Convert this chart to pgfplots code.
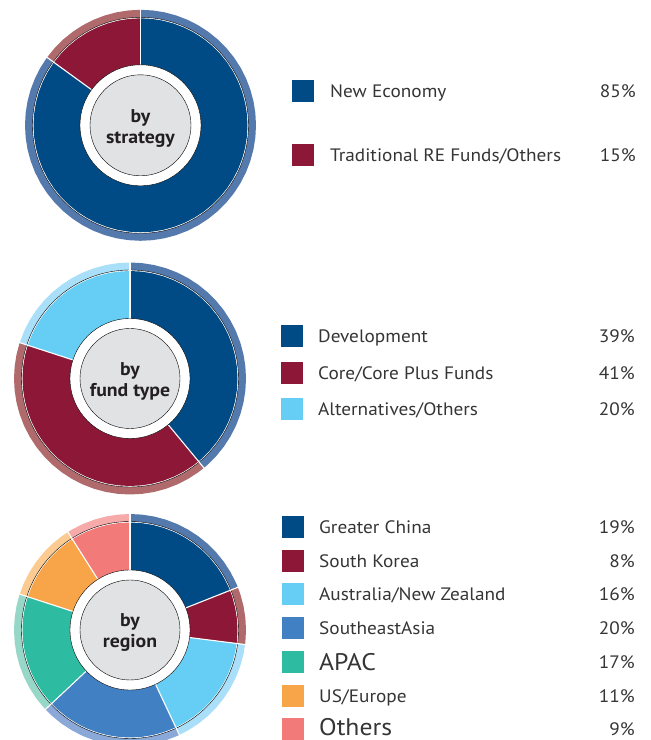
\documentclass[border=0pt]{standalone}
\usepackage{pgfplots}
\pgfplotsset{compat=1.18}
\usepackage{pgfplotstable}
\usepackage{fontspec}
\setmainfont{PT Sans}[FakeStretch=1.07]

\definecolor{cBlue}{HTML}{004B85}
\definecolor{cBlueL}{HTML}{5479AC}
\definecolor{cRed}{HTML}{8C1737}
\definecolor{cRedL}{HTML}{B06A6C}
\definecolor{cSky}{HTML}{66CEF5}
\definecolor{cSkyL}{HTML}{A9DFF8}
\definecolor{cMid}{HTML}{4280C4}
\definecolor{cMidL}{HTML}{8AA8D8}
\definecolor{cTeal}{HTML}{2DBBA1}
\definecolor{cTealL}{HTML}{97D7C8}
\definecolor{cOra}{HTML}{F8A54A}
\definecolor{cOraL}{HTML}{FCCB92}
\definecolor{cSal}{HTML}{F27A79}
\definecolor{cSalL}{HTML}{F7AAAA}
\definecolor{cGrey}{HTML}{E1E2E4}
\definecolor{cTxt}{HTML}{353535}
\definecolor{cLbl}{HTML}{231F20}

% ---- by strategy: New Economy 85%, Traditional 15% (angles from 90 deg, clockwise)
\pgfplotstableread[row sep=\\]{a r\\ 90 0\\ 90 1\\ 84 1\\ 78 1\\ 72 1\\ 66 1\\ 60 1\\ 54 1\\ 48 1\\ 42 1\\ 36 1\\ 30 1\\ 24 1\\ 18 1\\ 12 1\\ 6 1\\ 0 1\\ -6 1\\ -12 1\\ -18 1\\ -24 1\\ -30 1\\ -36 1\\ -42 1\\ -48 1\\ -54 1\\ -60 1\\ -66 1\\ -72 1\\ -78 1\\ -84 1\\ -90 1\\ -96 1\\ -102 1\\ -108 1\\ -114 1\\ -120 1\\ -126 1\\ -132 1\\ -138 1\\ -144 1\\ -150 1\\ -156 1\\ -162 1\\ -168 1\\ -174 1\\ -180 1\\ -186 1\\ -192 1\\ -198 1\\ -204 1\\ -210 1\\ -216 1\\ -216 0\\}\tNE
\pgfplotstableread[row sep=\\]{a r\\ -216 0\\ -216 1\\ -222 1\\ -228 1\\ -234 1\\ -240 1\\ -246 1\\ -252 1\\ -258 1\\ -264 1\\ -270 1\\ -270 0\\}\tTR

% ---- by fund type: Development 39%, Core 41%, Alternatives 20%
\pgfplotstableread[row sep=\\]{a r\\ 90 0\\ 90 1\\ 84 1\\ 78 1\\ 72 1\\ 66 1\\ 60 1\\ 54 1\\ 48 1\\ 42 1\\ 36 1\\ 30 1\\ 24 1\\ 18 1\\ 12 1\\ 6 1\\ 0 1\\ -6 1\\ -12 1\\ -18 1\\ -24 1\\ -30 1\\ -36 1\\ -42 1\\ -48 1\\ -50.4 1\\ -50.4 0\\}\tDev
\pgfplotstableread[row sep=\\]{a r\\ -50.4 0\\ -50.4 1\\ -54 1\\ -60 1\\ -66 1\\ -72 1\\ -78 1\\ -84 1\\ -90 1\\ -96 1\\ -102 1\\ -108 1\\ -114 1\\ -120 1\\ -126 1\\ -132 1\\ -138 1\\ -144 1\\ -150 1\\ -156 1\\ -162 1\\ -168 1\\ -174 1\\ -180 1\\ -186 1\\ -192 1\\ -198 1\\ -198 0\\}\tCore
\pgfplotstableread[row sep=\\]{a r\\ -198 0\\ -198 1\\ -204 1\\ -210 1\\ -216 1\\ -222 1\\ -228 1\\ -234 1\\ -240 1\\ -246 1\\ -252 1\\ -258 1\\ -264 1\\ -270 1\\ -270 0\\}\tAlt

% ---- by region: 19, 8, 16, 20, 17, 11, 9 %
\pgfplotstableread[row sep=\\]{a r\\ 90 0\\ 90 1\\ 84 1\\ 78 1\\ 72 1\\ 66 1\\ 60 1\\ 54 1\\ 48 1\\ 42 1\\ 36 1\\ 30 1\\ 24 1\\ 21.6 1\\ 21.6 0\\}\tGC
\pgfplotstableread[row sep=\\]{a r\\ 21.6 0\\ 21.6 1\\ 18 1\\ 12 1\\ 6 1\\ 0 1\\ -6 1\\ -7.2 1\\ -7.2 0\\}\tSK
\pgfplotstableread[row sep=\\]{a r\\ -7.2 0\\ -7.2 1\\ -12 1\\ -18 1\\ -24 1\\ -30 1\\ -36 1\\ -42 1\\ -48 1\\ -54 1\\ -60 1\\ -64.8 1\\ -64.8 0\\}\tAU
\pgfplotstableread[row sep=\\]{a r\\ -64.8 0\\ -64.8 1\\ -66 1\\ -72 1\\ -78 1\\ -84 1\\ -90 1\\ -96 1\\ -102 1\\ -108 1\\ -114 1\\ -120 1\\ -126 1\\ -132 1\\ -136.8 1\\ -136.8 0\\}\tSEA
\pgfplotstableread[row sep=\\]{a r\\ -136.8 0\\ -136.8 1\\ -138 1\\ -144 1\\ -150 1\\ -156 1\\ -162 1\\ -168 1\\ -174 1\\ -180 1\\ -186 1\\ -192 1\\ -198 1\\ -198 0\\}\tAPAC
\pgfplotstableread[row sep=\\]{a r\\ -198 0\\ -198 1\\ -204 1\\ -210 1\\ -216 1\\ -222 1\\ -228 1\\ -234 1\\ -237.6 1\\ -237.6 0\\}\tUS
\pgfplotstableread[row sep=\\]{a r\\ -237.6 0\\ -237.6 1\\ -240 1\\ -246 1\\ -252 1\\ -258 1\\ -264 1\\ -270 1\\ -270 0\\}\tOTH

\pgfplotsset{
  donut/.style={hide axis, scale only axis, data cs=polar,
    xmin=-1, xmax=1, ymin=-1, ymax=1, clip=false, anchor=origin},
  wedge/.style={fill=#1, draw=none},
  sep/.style={draw=white, line width=1.1pt},
  disc/.style={only marks, mark=*, mark size=#1, mark options={fill=white, draw=none}},
}
\newcommand{\legfont}{\fontsize{18}{18}\selectfont}
\newcommand{\legbig}{\fontsize{24}{24}\selectfont}
\tikzset{ctr/.style={align=center, text=cLbl, font=\bfseries\fontsize{18.5}{21}\selectfont}}

\begin{document}
\begin{tikzpicture}
\useasboundingbox (0,0) rectangle (651pt,740pt);

% ================= Donut 1 =================
\begin{axis}[donut, width=231pt, height=231pt, at={(140.5pt,614.7pt)}]
  \addplot[wedge=cBlueL] table[x=a,y=r] {\tNE};
  \addplot[wedge=cRedL] table[x=a,y=r] {\tTR};
  \addplot[disc=108pt] coordinates {(0,0)};
\end{axis}
\begin{axis}[donut, width=214pt, height=214pt, at={(140.5pt,614.7pt)}]
  \addplot[wedge=cBlue] table[x=a,y=r] {\tNE};
  \addplot[wedge=cRed] table[x=a,y=r] {\tTR};
  \addplot[sep] coordinates {(90,0.5) (90,1.1)};
  \addplot[sep] coordinates {(-216,0.5) (-216,1.1)};
  \addplot[disc=60.5pt] coordinates {(0,0)};
  \addplot[only marks, mark=*, mark size=50.5pt, mark options={fill=cGrey, draw=none}] coordinates {(0,0)};
\end{axis}
\node[ctr] at (140.5pt,612pt) {by\\strategy};

% ================= Donut 2 =================
\begin{axis}[donut, width=232pt, height=232pt, at={(130pt,361.5pt)}]
  \addplot[wedge=cBlueL] table[x=a,y=r] {\tDev};
  \addplot[wedge=cRedL] table[x=a,y=r] {\tCore};
  \addplot[wedge=cSkyL] table[x=a,y=r] {\tAlt};
  \addplot[disc=108.5pt] coordinates {(0,0)};
\end{axis}
\begin{axis}[donut, width=215pt, height=215pt, at={(130pt,361.5pt)}]
  \addplot[wedge=cBlue] table[x=a,y=r] {\tDev};
  \addplot[wedge=cRed] table[x=a,y=r] {\tCore};
  \addplot[wedge=cSky] table[x=a,y=r] {\tAlt};
  \addplot[sep] coordinates {(90,0.5) (90,1.1)};
  \addplot[sep] coordinates {(-50.4,0.5) (-50.4,1.1)};
  \addplot[sep] coordinates {(-198,0.5) (-198,1.1)};
  \addplot[disc=60pt] coordinates {(0,0)};
  \addplot[only marks, mark=*, mark size=50pt, mark options={fill=cGrey, draw=none}] coordinates {(0,0)};
\end{axis}
\node[ctr] at (130pt,359pt) {by\\fund type};

% ================= Donut 3 =================
\begin{axis}[donut, width=232pt, height=232pt, at={(130pt,110pt)}]
  \addplot[wedge=cBlueL] table[x=a,y=r] {\tGC};
  \addplot[wedge=cRedL] table[x=a,y=r] {\tSK};
  \addplot[wedge=cSkyL] table[x=a,y=r] {\tAU};
  \addplot[wedge=cMidL] table[x=a,y=r] {\tSEA};
  \addplot[wedge=cTealL] table[x=a,y=r] {\tAPAC};
  \addplot[wedge=cOraL] table[x=a,y=r] {\tUS};
  \addplot[wedge=cSalL] table[x=a,y=r] {\tOTH};
  \addplot[disc=108.5pt] coordinates {(0,0)};
\end{axis}
\begin{axis}[donut, width=215pt, height=215pt, at={(130pt,110pt)}]
  \addplot[wedge=cBlue] table[x=a,y=r] {\tGC};
  \addplot[wedge=cRed] table[x=a,y=r] {\tSK};
  \addplot[wedge=cSky] table[x=a,y=r] {\tAU};
  \addplot[wedge=cMid] table[x=a,y=r] {\tSEA};
  \addplot[wedge=cTeal] table[x=a,y=r] {\tAPAC};
  \addplot[wedge=cOra] table[x=a,y=r] {\tUS};
  \addplot[wedge=cSal] table[x=a,y=r] {\tOTH};
  \addplot[sep] coordinates {(90,0.5) (90,1.1)};
  \addplot[sep] coordinates {(21.6,0.5) (21.6,1.1)};
  \addplot[sep] coordinates {(-7.2,0.5) (-7.2,1.1)};
  \addplot[sep] coordinates {(-64.8,0.5) (-64.8,1.1)};
  \addplot[sep] coordinates {(-136.8,0.5) (-136.8,1.1)};
  \addplot[sep] coordinates {(-198,0.5) (-198,1.1)};
  \addplot[sep] coordinates {(-237.6,0.5) (-237.6,1.1)};
  \addplot[disc=60pt] coordinates {(0,0)};
  \addplot[only marks, mark=*, mark size=50pt, mark options={fill=cGrey, draw=none}] coordinates {(0,0)};
\end{axis}
\node[ctr] at (130pt,107.5pt) {by\\region};

% ================= Legends =================
\tikzset{sq/.style={fill=#1, minimum size=22pt, inner sep=0pt, draw=none},
  lt/.style={anchor=base west, inner sep=0pt, text=cTxt},
  lp/.style={anchor=base east, inner sep=0pt, text=cTxt}}
% legend 1
\node[sq=cBlue] at (303pt,649pt) {};
\node[lt, font=\legfont] at (330pt,642.7pt) {New Economy};
\node[lp, font=\legfont] at (636pt,642.7pt) {85\%};
\node[sq=cRed] at (303pt,585pt) {};
\node[lt, font=\legfont] at (330pt,578.7pt) {Traditional RE Funds/Others};
\node[lp, font=\legfont] at (636pt,578.7pt) {15\%};
% legend 2
\node[sq=cBlue] at (292pt,404pt) {};
\node[lt, font=\legfont] at (318pt,397.7pt) {Development};
\node[lp, font=\legfont] at (635pt,397.7pt) {39\%};
\node[sq=cRed] at (292pt,367pt) {};
\node[lt, font=\legfont] at (318pt,360.7pt) {Core/Core Plus Funds};
\node[lp, font=\legfont] at (635pt,360.7pt) {41\%};
\node[sq=cSky] at (292pt,331pt) {};
\node[lt, font=\legfont] at (318pt,324.7pt) {Alternatives/Others};
\node[lp, font=\legfont] at (635pt,324.7pt) {20\%};
% legend 3
\node[sq=cBlue] at (293pt,213pt) {};
\node[lt, font=\legfont] at (319pt,206.7pt) {Greater China};
\node[lp, font=\legfont] at (635pt,206.7pt) {19\%};
\node[sq=cRed] at (293pt,179pt) {};
\node[lt, font=\legfont] at (319pt,172.7pt) {South Korea};
\node[lp, font=\legfont] at (635pt,172.7pt) {8\%};
\node[sq=cSky] at (293pt,146pt) {};
\node[lt, font=\legfont] at (319pt,139.7pt) {Australia/New Zealand};
\node[lp, font=\legfont] at (635pt,139.7pt) {16\%};
\node[sq=cMid] at (293pt,112pt) {};
\node[lt, font=\legfont] at (319pt,105.7pt) {SoutheastAsia};
\node[lp, font=\legfont] at (635pt,105.7pt) {20\%};
\node[sq=cTeal] at (293pt,78pt) {};
\node[lt, font=\legbig] at (319pt,69.6pt) {APAC};
\node[lp, font=\legfont] at (635pt,71.7pt) {17\%};
\node[sq=cOra] at (293pt,44pt) {};
\node[lt, font=\legfont] at (319pt,37.7pt) {US/Europe};
\node[lp, font=\legfont] at (635pt,37.7pt) {11\%};
\node[sq=cSal] at (293pt,11pt) {};
\node[lt, font=\legbig] at (319pt,5pt) {Others};
\node[lp, font=\legfont] at (635pt,5pt) {9\%};
\end{tikzpicture}
\end{document}
